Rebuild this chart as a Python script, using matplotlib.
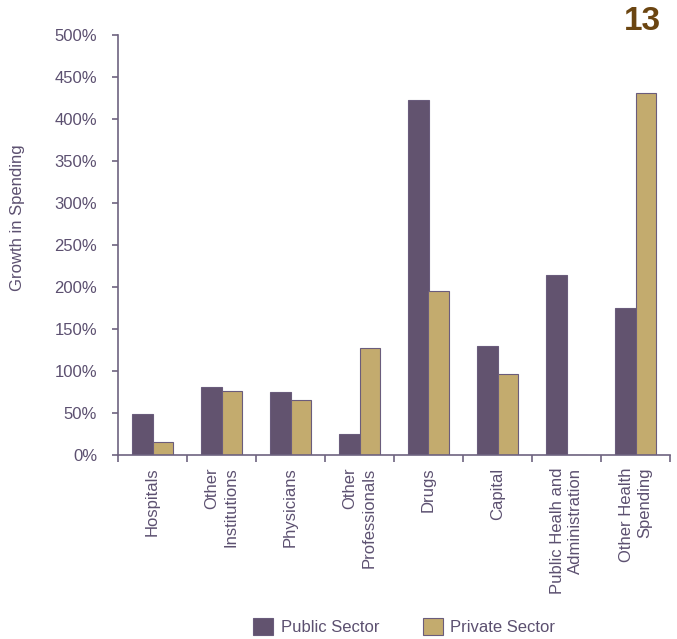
import numpy as np
import matplotlib
matplotlib.use('Agg')
import matplotlib.pyplot as plt
from matplotlib.ticker import FixedLocator, FuncFormatter

categories = ['Hospitals', 'Other\nInstitutions', 'Physicians', 'Other\nProfessionals',
              'Drugs', 'Capital', 'Public Healh and\nAdministration', 'Other Health\nSpending']
public_sector = [48.4, 80.6, 75.4, 25.0, 422.6, 129.4, 213.9, 175.4]
private_sector = [15.1, 76.6, 65.9, 127.0, 195.6, 96.8, 0.0, 431.3]
y_ticks = [0, 50, 100, 150, 200, 250, 300, 350, 400, 450, 500]

pub_col = '#62536f'
priv_col = '#c3ab6e'
edge_col = '#6a5c7c'
text_col = '#5c5070'
axis_col = '#6e6380'

plt.rcParams['font.family'] = ['Liberation Sans Narrow', 'Liberation Sans', 'DejaVu Sans']
plt.rcParams['font.size'] = 12

fig = plt.figure(figsize=(6.77, 6.39), dpi=100)
ax = fig.add_axes([118/677, 1-455/639, 552/677, 420/639])

ind = np.arange(len(categories))
width = 0.29
ax.bar(ind - width/2, public_sector, width, color=pub_col, edgecolor=edge_col, linewidth=0.8,
       label='Public Sector')
ax.bar(ind + width/2, private_sector, width, color=priv_col, edgecolor=edge_col, linewidth=0.8,
       label='Private Sector')

ax.set_xlim(-0.5, len(categories) - 0.5)
ax.set_ylim(0, 500)
ax.set_yticks(y_ticks)
ax.yaxis.set_major_formatter(FuncFormatter(lambda v, p: '%d%%' % v))

ax.set_xticks(ind)
ax.set_xticklabels(categories, rotation=90, va='top', ha='center', multialignment='right',
                   linespacing=1.3)
ax.xaxis.set_minor_locator(FixedLocator(np.arange(-0.5, len(categories), 1.0)))
ax.tick_params(axis='x', which='major', length=0, pad=9, colors=text_col)
ax.tick_params(axis='x', which='minor', length=5, width=1.2, color=axis_col, direction='out')
ax.tick_params(axis='y', length=4, width=1.2, color=axis_col, labelcolor=text_col, pad=11)

for s in ['top', 'right']:
    ax.spines[s].set_visible(False)
for s in ['left', 'bottom']:
    ax.spines[s].set_color(axis_col)
    ax.spines[s].set_linewidth(1.2)

fig.text(18/677, 1-218/639, 'Growth in Spending', rotation=90, ha='center', va='center',
         color=text_col, fontsize=12)
fig.text(661/677, 1-22/639, '13', ha='right', va='center', color='#6b4511', fontsize=24,
         fontweight='bold', family=['Liberation Sans', 'DejaVu Sans'])

fig.legend(loc='center', bbox_to_anchor=(0.597, 0.02), ncol=2, frameon=False,
           handlelength=1.2, handleheight=1.2, handletextpad=0.45, columnspacing=2.6,
           labelcolor=text_col, fontsize=12)

fig.savefig('out.png', dpi=100)
